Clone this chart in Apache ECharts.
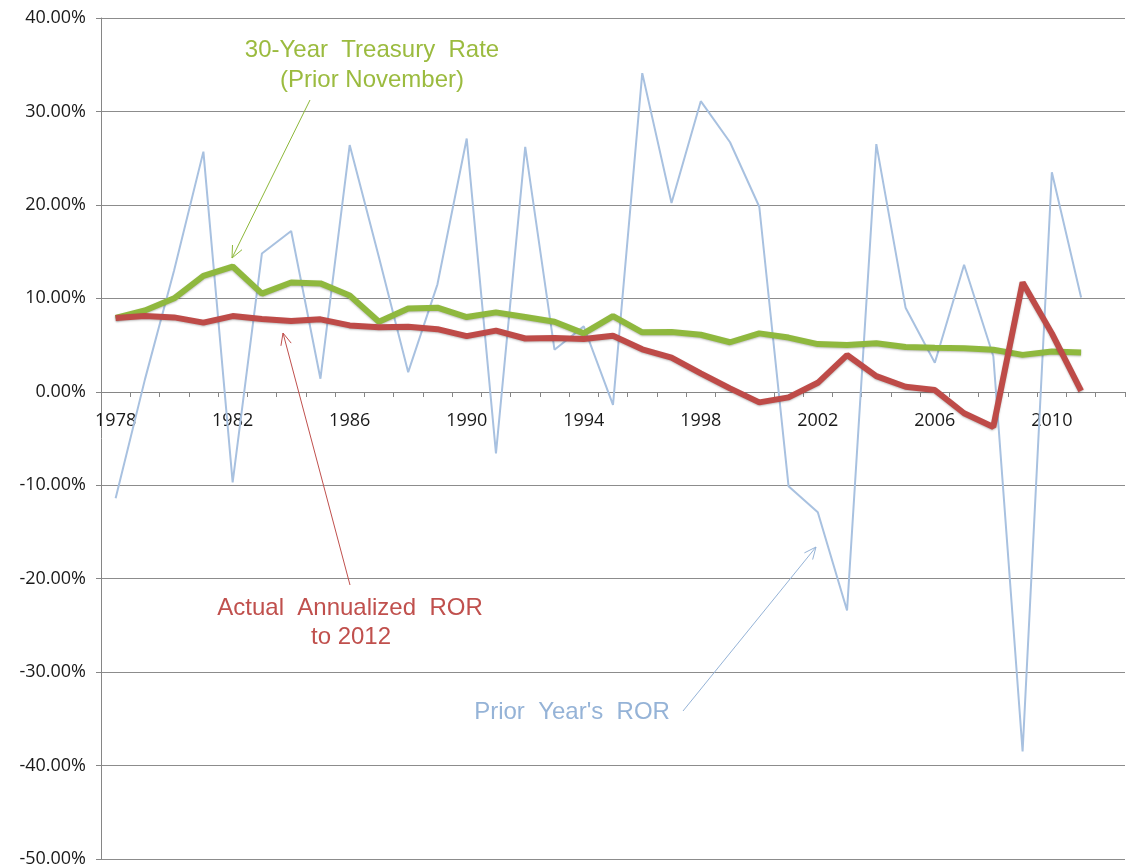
<!DOCTYPE html>
<html>
<head>
<meta charset="utf-8">
<script src="https://cdn.jsdelivr.net/npm/echarts@6/dist/echarts.min.js"></script>
<style>
  html, body { margin: 0; padding: 0; background: #fff; }
  #chart { width: 1126px; height: 865px; }
</style>
</head>
<body>
<div id="chart"></div>
<script>
// years on the category axis (2012 slot is empty, as in the original)
var years = [];
for (var y = 1978; y <= 2012; y++) years.push(String(y));

// values in percent
var priorYearRor = [-11.4, 1.3, 13.0, 25.7, -9.7, 14.8, 17.2, 1.4, 26.4, 14.4,
  2.1, 11.5, 27.1, -6.6, 26.2, 4.5, 7.0, -1.4, 34.1, 20.2,
  31.1, 26.7, 19.8, -10.1, -12.9, -23.4, 26.5, 9.0, 3.1, 13.6,
  3.8, -38.5, 23.5, 10.1];
var treasury30 = [7.9, 8.7, 10.0, 12.4, 13.4, 10.5, 11.7, 11.6, 10.3, 7.5,
  8.9, 9.0, 8.0, 8.5, 8.0, 7.5, 6.25, 8.1, 6.36, 6.4,
  6.1, 5.3, 6.25, 5.8, 5.1, 5.0, 5.2, 4.8, 4.7, 4.65,
  4.5, 3.95, 4.3, 4.2];
var actualRor = [7.9, 8.1, 7.96, 7.4, 8.1, 7.8, 7.57, 7.75, 7.1, 6.9,
  6.96, 6.7, 5.95, 6.55, 5.7, 5.75, 5.65, 6.0, 4.55, 3.65,
  1.97, 0.36, -1.13, -0.6, 0.96, 3.93, 1.68, 0.54, 0.18, -2.3,
  -3.76, 11.7, 6.25, 0.1];

var yMin = -50, yMax = 40;
var gridTop = 18, gridBottom = 6, chartH = 865;

var chart = echarts.init(document.getElementById('chart'));

// little helper for the callout arrows (open arrowhead at the end point)
function arrow(x1, y1, x2, y2, color) {
  var a = Math.atan2(y2 - y1, x2 - x1);
  var len = 13, spread = 0.42;
  var h1 = [x2 - len * Math.cos(a - spread), y2 - len * Math.sin(a - spread)];
  var h2 = [x2 - len * Math.cos(a + spread), y2 - len * Math.sin(a + spread)];
  return [
    { type: 'line', shape: { x1: x1, y1: y1, x2: x2, y2: y2 }, style: { stroke: color, lineWidth: 1 }, z: 100 },
    { type: 'polyline', shape: { points: [h1, [x2, y2], h2] }, style: { stroke: color, lineWidth: 1, fill: null }, z: 100 }
  ];
}

// centred callout text
function note(txt, x, y, color) {
  return { type: 'text', x: x, y: y, z: 100,
    style: { text: txt, fill: color, font: '24px Liberation Sans', textAlign: 'center', textVerticalAlign: 'middle' } };
}

// the category axis sits on the 0% line: shift it up from the grid bottom
var plotH = chartH - gridTop - gridBottom;
var zeroOffset = -Math.round(plotH * (0 - yMin) / (yMax - yMin));

var graphics = []
  .concat(arrow(310, 100, 232, 258, '#8DB83A'))
  .concat(arrow(350, 585, 283, 333, '#C0504D'))
  .concat(arrow(683, 711, 816, 547, '#95B3D7'))
  .concat([
    note('30-Year  Treasury  Rate', 372, 50, '#9BBB3F'),
    note('(Prior November)', 372, 80, '#9BBB3F'),
    note('Actual  Annualized  ROR', 350, 608, '#C0504D'),
    note('to 2012', 351, 637, '#C0504D'),
    note("Prior  Year's  ROR", 572, 712, '#95B3D7')
  ]);

var option = {
  animation: false,
  backgroundColor: '#fff',
  grid: { left: 101, right: 1, top: gridTop, bottom: gridBottom, containLabel: false, outerBoundsMode: 'none' },
  xAxis: {
    type: 'category',
    data: years,
    boundaryGap: true,
    position: 'bottom',
    offset: zeroOffset,
    axisLine: { onZero: false, lineStyle: { color: '#868686', width: 1 } },
    axisTick: { show: true, interval: 0, length: 5, lineStyle: { color: '#868686' } },
    axisLabel: { interval: 3, margin: 20, color: '#1a1a1a', fontSize: 18, fontFamily: 'Open Sans' },
    splitLine: { show: false }
  },
  yAxis: {
    type: 'value',
    min: yMin,
    max: yMax,
    interval: 10,
    axisLine: { show: true, lineStyle: { color: '#868686', width: 1 } },
    axisTick: { show: true, length: 5, lineStyle: { color: '#868686' } },
    axisLabel: {
      margin: 15, color: '#1a1a1a', fontSize: 18, fontFamily: 'Open Sans',
      formatter: function (v) { return v.toFixed(2) + '%'; }
    },
    splitLine: { show: true, lineStyle: { color: '#8c8c8c', width: 1 } }
  },
  series: [
    {
      name: "Prior Year's ROR",
      type: 'line',
      data: priorYearRor,
      symbol: 'none',
      lineStyle: { color: '#A8C1E0', width: 2 },
      z: 2
    },
    {
      name: '30-Year Treasury Rate',
      type: 'line',
      data: treasury30,
      symbol: 'none',
      lineStyle: { color: '#8FB83E', width: 6, shadowColor: 'rgba(0,0,0,0.25)', shadowBlur: 2, shadowOffsetY: 1 },
      z: 3
    },
    {
      name: 'Actual Annualized ROR',
      type: 'line',
      data: actualRor,
      symbol: 'none',
      lineStyle: { color: '#BE4B48', width: 6, shadowColor: 'rgba(0,0,0,0.25)', shadowBlur: 2, shadowOffsetY: 1 },
      z: 4
    }
  ],
  graphic: graphics
};

chart.setOption(option);
</script>
</body>
</html>
